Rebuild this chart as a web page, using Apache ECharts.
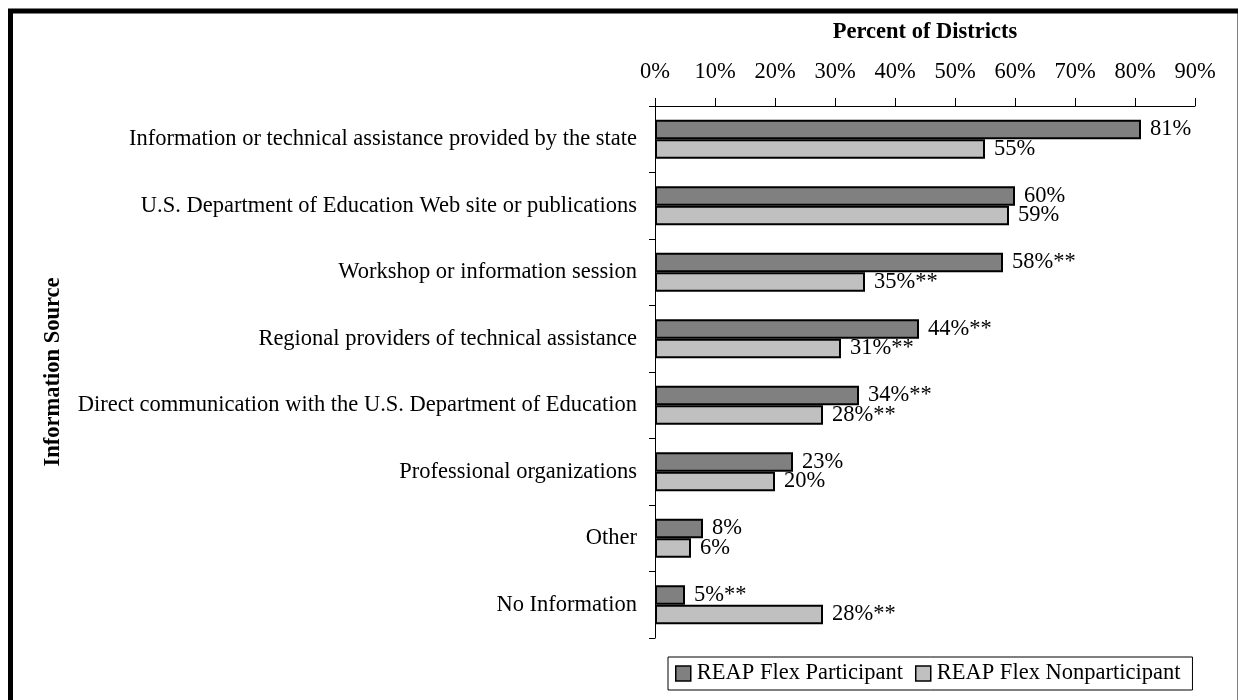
<!DOCTYPE html>
<html>
<head>
<meta charset="utf-8">
<script src="https://cdn.jsdelivr.net/npm/echarts@6/dist/echarts.min.js"></script>
<style>
  html, body { margin: 0; padding: 0; background: #fff; }
  #chart { width: 1238px; height: 700px; }
</style>
</head>
<body>
<div id="chart"></div>
<script>
const categories = [
  'Information or technical assistance provided by the state',
  'U.S. Department of Education Web site or publications',
  'Workshop or information session',
  'Regional providers of technical assistance',
  'Direct communication with the U.S. Department of Education',
  'Professional organizations',
  'Other',
  'No Information'
];
const participant = [81, 60, 58, 44, 34, 23, 8, 5];
const nonparticipant = [55, 59, 35, 31, 28, 20, 6, 28];
// significance markers shown after the value
const participantSig = [false, false, true, true, true, false, false, true];
const nonparticipantSig = [false, false, true, true, true, false, false, true];
const xTicks = [0, 10, 20, 30, 40, 50, 60, 70, 80, 90];

const font = '"Liberation Serif", "Times New Roman", serif';
const fs = 22.5;

const chart = echarts.init(document.getElementById('chart'));

function makeLabel(sig) {
  return {
    show: true,
    position: 'right',
    distance: 9,
    fontFamily: font,
    fontSize: fs,
    color: '#000',
    formatter: p => p.value + '%' + (sig[p.dataIndex] ? '**' : '')
  };
}

const option = {
  animation: false,
  textStyle: { fontFamily: font },
  grid: { left: 655, right: 43, top: 106, bottom: 62 },
  legend: {
    left: 668,
    top: 657,
    orient: 'horizontal',
    padding: [5, 12, 5, 7],
    itemGap: 12,
    itemWidth: 15,
    itemHeight: 15,
    borderColor: '#000',
    borderWidth: 1,
    icon: 'rect',
    itemStyle: { borderColor: '#000', borderWidth: 1.5 },
    textStyle: { fontFamily: font, fontSize: fs, color: '#000', padding: [0, 0, 0, 1] },
    data: ['REAP Flex Participant', 'REAP Flex Nonparticipant']
  },
  xAxis: {
    type: 'value',
    position: 'top',
    min: xTicks[0],
    max: xTicks[xTicks.length - 1],
    interval: 10,
    name: 'Percent of Districts',
    nameLocation: 'middle',
    nameGap: 62,
    nameTextStyle: { fontFamily: font, fontSize: fs, fontWeight: 'bold', color: '#000' },
    axisLine: { show: true, lineStyle: { color: '#000', width: 1 } },
    axisTick: { show: true, inside: false, length: 8, lineStyle: { color: '#000' } },
    axisLabel: {
      margin: 22,
      fontFamily: font,
      fontSize: fs,
      color: '#000',
      formatter: v => v + '%'
    },
    splitLine: { show: false }
  },
  yAxis: {
    type: 'category',
    inverse: true,
    data: categories,
    name: 'Information Source',
    nameLocation: 'middle',
    nameGap: 590,
    nameRotate: 90,
    nameTextStyle: { fontFamily: font, fontSize: fs, fontWeight: 'bold', color: '#000' },
    axisLine: { show: true, lineStyle: { color: '#000', width: 1 } },
    axisTick: { show: true, inside: false, length: 6, lineStyle: { color: '#000' } },
    axisLabel: { margin: 18, fontFamily: font, fontSize: fs, color: '#000' }
  },
  series: [
    {
      name: 'REAP Flex Participant',
      type: 'bar',
      data: participant,
      barGap: '0%',
      barCategoryGap: '41%',
      itemStyle: { color: '#808080', borderColor: '#000', borderWidth: 2 },
      label: makeLabel(participantSig)
    },
    {
      name: 'REAP Flex Nonparticipant',
      type: 'bar',
      data: nonparticipant,
      itemStyle: { color: '#C0C0C0', borderColor: '#000', borderWidth: 2 },
      label: makeLabel(nonparticipantSig)
    }
  ],
  graphic: [
    {
      type: 'rect',
      silent: true,
      shape: { x: 10.5, y: 11, width: 1229.5, height: 720 },
      style: { fill: 'none', stroke: '#000', lineWidth: 5 },
      z: 100
    }
  ]
};

chart.setOption(option);
</script>
</body>
</html>
